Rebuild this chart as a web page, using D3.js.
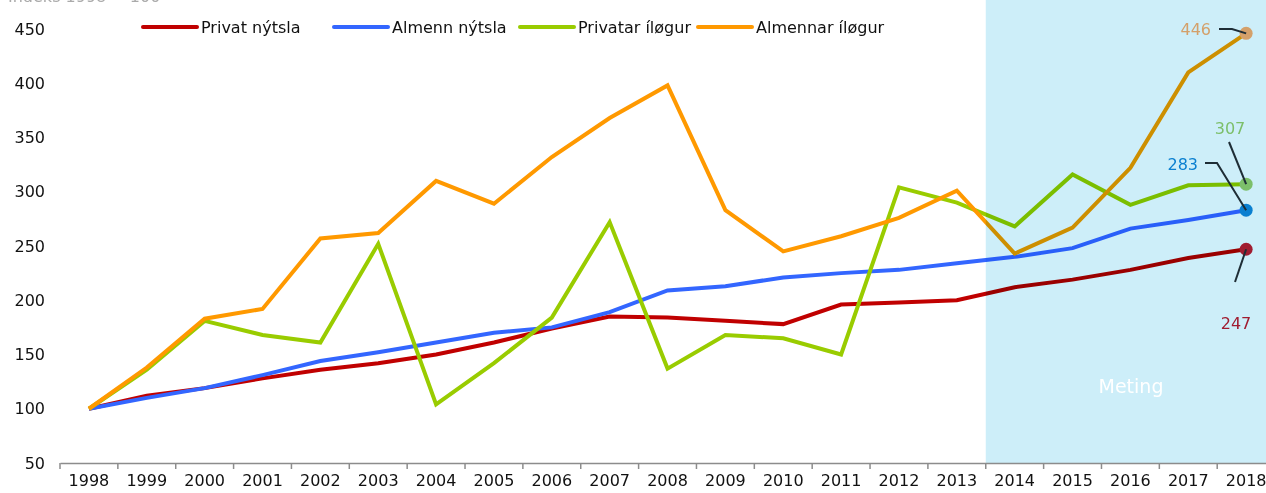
<!DOCTYPE html>
<html>
<head>
<meta charset="utf-8">
<script src="https://cdn.jsdelivr.net/npm/d3@7"></script>
<style>
  body { margin: 0; background: #fff; }
  svg { display: block; font-family: "DejaVu Sans", Verdana, sans-serif; }
</style>
</head>
<body>
<svg id="chart"></svg>
<script>
const years = ["1998","1999","2000","2001","2002","2003","2004","2005","2006","2007","2008","2009","2010","2011","2012","2013","2014","2015","2016","2017","2018"];
const forecastStart = "2014";

const privatNytsla   = [100,112,119,128,136,142,150,161,174,185,184,181,178,196,198,200,212,219,228,239,247];
const almennNytsla   = [100,110,119,131,144,152,161,170,175,189,209,213,221,225,228,234,240,248,266,274,283];
const privatarIlogur = [100,136,181,168,161,252,104,142,184,272,137,168,165,150,304,290,268,316,288,306,307];
const almennarIlogur = [100,138,183,192,257,262,310,289,332,368,398,283,245,259,276,301,243,267,322,410,446];

const seriesNames  = ["Privat nýtsla", "Almenn nýtsla", "Privatar íløgur", "Almennar íløgur"];
const seriesColors = ["#c00000", "#3366ff", "#99cc00", "#ff9900"];
const endColors    = ["#a01c30", "#0a7fd0", "#7cbf6a", "#d4a06a"];
const yTicks = [50,100,150,200,250,300,350,400,450];

const series = [privatNytsla, almennNytsla, privatarIlogur, almennarIlogur].map((values, i) => ({
    name: seriesNames[i],
    color: seriesColors[i],
    endColor: endColors[i],
    values: values.map((v, j) => ({year: years[j], value: v}))
}));

const width = 1266;
const height = 493;
const fontSize = "16px";

const svg = d3.select("#chart")
    .attr("width", width)
    .attr("height", height);

const x = d3.scaleBand()
    .domain(years)
    .range([60, 60 + 21 * 57.86]);

const y = d3.scaleLinear()
    .domain([50, 450])
    .range([463, 29]);

const cx = d => x(d) + x.bandwidth() / 2;

// title, mostly cropped off the top like in the source
svg.append("text")
    .attr("x", 8)
    .attr("y", 2)
    .attr("fill", "#aaa")
    .style("font-size", fontSize)
    .text("Indeks 1998 = 100");

// y axis labels only
svg.append("g")
    .attr("transform", "translate(45,0)")
    .call(d3.axisLeft(y).tickValues(yTicks).tickSize(0).tickPadding(0))
    .call(g => g.select(".domain").remove())
    .call(g => g.selectAll("text").attr("fill", "#111").style("font-size", fontSize).style("font-family", "DejaVu Sans, Verdana, sans-serif"));

// lines
const line = d3.line()
    .x(d => cx(d.year))
    .y(d => y(d.value));

svg.append("g")
    .selectAll("path")
    .data(series)
    .join("path")
    .attr("fill", "none")
    .attr("stroke", d => d.color)
    .attr("stroke-width", 4)
    .attr("d", d => line(d.values));

// forecast shading
svg.append("rect")
    .attr("x", x(forecastStart))
    .attr("y", 0)
    .attr("width", width - x(forecastStart))
    .attr("height", y(50))
    .attr("fill", "#cdeef9")
    .style("mix-blend-mode", "multiply");

svg.append("text")
    .attr("x", 1131)
    .attr("y", 393)
    .attr("text-anchor", "middle")
    .attr("fill", "#fff")
    .style("font-size", "19px")
    .text("Meting");

// x axis
const gx = svg.append("g")
    .attr("transform", `translate(0,${y(50)})`)
    .call(d3.axisBottom(x).tickSize(0).tickPadding(12))
    .call(g => g.select(".domain").attr("stroke", "#8c8c8c").attr("stroke-width", 1.5))
    .call(g => g.selectAll("text").attr("fill", "#111").style("font-size", fontSize).style("font-family", "DejaVu Sans, Verdana, sans-serif"));

gx.selectAll(".boundary")
    .data(years)
    .join("line")
    .attr("class", "boundary")
    .attr("x1", d => x(d))
    .attr("x2", d => x(d))
    .attr("y1", 0)
    .attr("y2", 6)
    .attr("stroke", "#8c8c8c")
    .attr("stroke-width", 1.5);

// end markers
const last = years[years.length - 1];
svg.append("g")
    .selectAll("circle")
    .data(series)
    .join("circle")
    .attr("cx", cx(last))
    .attr("cy", d => y(d.values[d.values.length - 1].value))
    .attr("r", 6.5)
    .attr("fill", d => d.endColor);

// end labels with leader lines
const ex = cx(last);
const labelSpecs = [
    {i: 0, tx: 1236, ty: 329, anchor: "middle", pts: [[1235, 282]]},
    {i: 1, tx: 1198, ty: 170, anchor: "end", pts: [[1205, 163], [1217, 163]]},
    {i: 2, tx: 1230, ty: 134, anchor: "middle", pts: [[1229, 142]]},
    {i: 3, tx: 1211, ty: 35, anchor: "end", pts: [[1219, 29], [1232, 29]]}
];

labelSpecs.forEach(s => {
    const v = series[s.i].values[series[s.i].values.length - 1].value;
    const pts = s.pts.concat([[ex, y(v)]]);
    svg.append("path")
        .attr("fill", "none")
        .attr("stroke", "#1e2d36")
        .attr("stroke-width", 2)
        .attr("d", d3.line()(pts));
    svg.append("text")
        .attr("x", s.tx)
        .attr("y", s.ty)
        .attr("text-anchor", s.anchor)
        .attr("fill", series[s.i].endColor)
        .style("font-size", fontSize)
        .text(v);
});

// legend
const legendX = [143, 334, 520, 698];
const legend = svg.append("g")
    .selectAll("g")
    .data(series)
    .join("g")
    .attr("transform", (d, i) => `translate(${legendX[i]},27)`);

legend.append("line")
    .attr("x1", 0)
    .attr("x2", 54)
    .attr("stroke", d => d.color)
    .attr("stroke-width", 4)
    .attr("stroke-linecap", "round");

legend.append("text")
    .attr("x", 58)
    .attr("y", 6)
    .attr("fill", "#111")
    .style("font-size", fontSize)
    .text(d => d.name);
</script>
</body>
</html>
